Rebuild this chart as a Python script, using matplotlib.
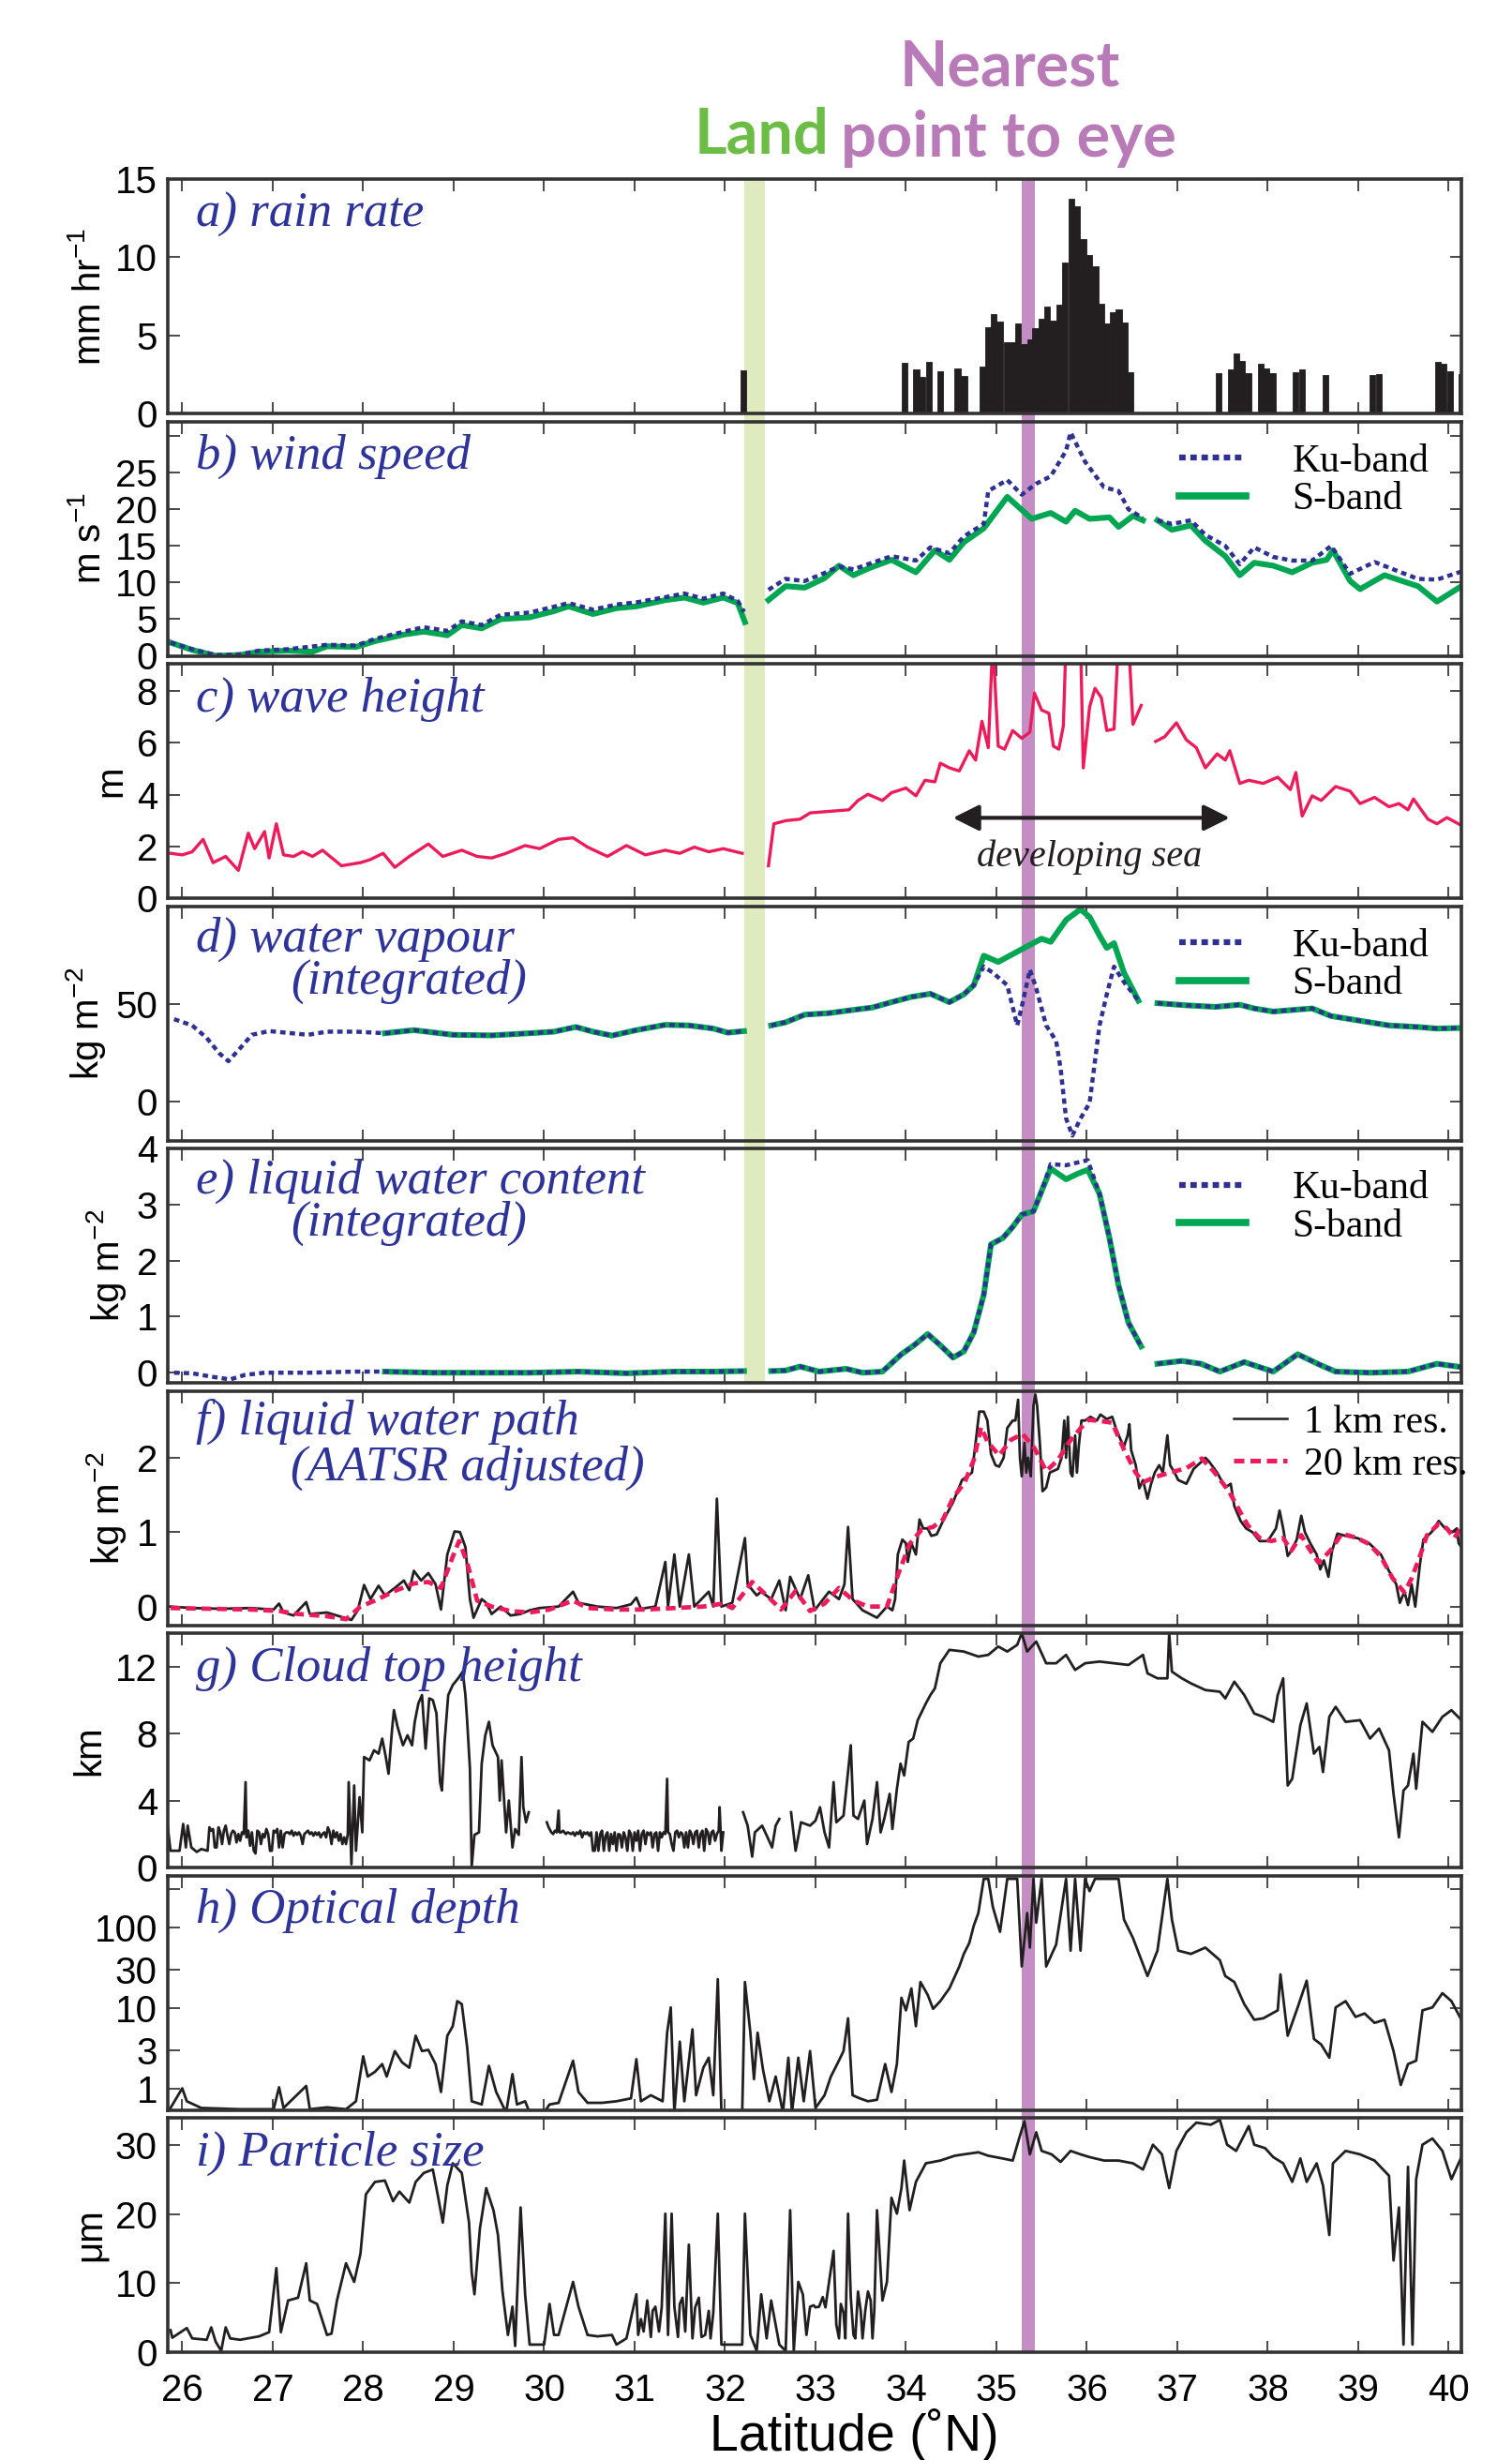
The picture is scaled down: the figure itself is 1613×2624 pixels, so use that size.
import numpy as np
import matplotlib.pyplot as plt
from matplotlib.lines import Line2D

plt.rcParams['font.family'] = ['Liberation Sans', 'DejaVu Sans']
plt.rcParams['mathtext.fontset'] = 'custom'
plt.rcParams['mathtext.rm'] = 'Liberation Sans'
plt.rcParams['mathtext.it'] = 'Liberation Sans:italic'

nan = np.nan

# ---------------- data ----------------
# a) rain rate bars: left edge latitude, mm/hr
rain_lat = [32.17, 33.954, 34.083, 34.148, 34.218, 34.343, 34.537, 34.611, 34.810, 34.875,
            34.935, 35.005, 35.079, 35.144, 35.208, 35.273, 35.338, 35.398, 35.463, 35.528,
            35.593, 35.662, 35.727, 35.796, 35.861, 35.926, 35.991, 36.060, 36.125, 36.190,
            36.255, 36.319, 36.380, 36.444, 37.421, 37.556, 37.620, 37.685, 37.750, 37.889,
            37.954, 38.019, 38.273, 38.343, 38.602, 39.120, 39.194, 39.847, 39.912, 39.981, 40.106]
rain_val = [2.75, 3.23, 2.8, 2.34, 3.33, 2.7, 2.87, 2.4, 3.0, 5.55,
            6.39, 5.87, 4.55, 4.55, 5.75, 4.43, 4.73, 5.45, 6.09, 6.83,
            5.97, 6.95, 9.64, 13.77, 13.29, 11.14, 10.12, 9.44, 7.0, 5.75,
            6.49, 6.65, 5.83, 2.63, 2.57, 2.8, 3.83, 3.39, 2.57, 3.17,
            2.87, 2.57, 2.63, 2.8, 2.46, 2.46, 2.5, 3.33, 3.17, 2.73, 2.55]

# b) wind speed
ws_s_lat = [25.87, 26.11, 26.37, 26.64, 26.85, 27.17, 27.44, 27.60, 27.92, 28.13,
            28.45, 28.67, 28.93, 29.09, 29.31, 29.52, 29.84, 30.11, 30.27, 30.54,
            30.80, 31.02, 31.34, 31.55, 31.76, 31.98, 32.14, 32.22, 32.35, 32.48,
            32.67, 32.88, 33.10, 33.26, 33.42, 33.58, 33.84, 34.11, 34.32, 34.48,
            34.64, 34.86, 35.12, 35.39, 35.60, 35.77, 35.87, 36.03, 36.25, 36.35,
            36.51, 36.62, 36.70, 36.78, 36.94, 37.15, 37.31, 37.53, 37.69, 37.85,
            38.06, 38.27, 38.49, 38.65, 38.72, 38.91, 39.02, 39.29, 39.66, 39.87, 40.14]
ws_s_val = [1.8, 0.8, 0.0, 0.1, 0.55, 0.7, 0.55, 1.3, 1.2, 2.0,
            2.9, 3.3, 2.8, 4.2, 3.75, 5.0, 5.25, 6.1, 6.75, 5.7,
            6.5, 6.75, 7.6, 7.95, 7.25, 7.95, 7.2, 4.6, nan, 7.6,
            9.5, 9.3, 10.6, 12.3, 11.0, 11.9, 13.1, 11.4, 14.4, 13.1,
            15.5, 17.4, 21.7, 18.7, 19.5, 18.3, 19.8, 18.7, 18.9, 17.6,
            19.1, 18.5, nan, 18.5, 17.2, 17.8, 15.7, 13.6, 11.0, 12.7,
            12.3, 11.4, 12.7, 13.1, 14.4, 10.2, 9.1, 11.0, 9.5, 7.4, 9.5]
ws_ku_lat = [25.87, 26.11, 26.37, 26.64, 26.85, 27.17, 27.60, 27.92, 28.13, 28.45,
             28.67, 28.93, 29.09, 29.31, 29.52, 29.84, 30.11, 30.27, 30.54, 30.80,
             31.02, 31.34, 31.55, 31.76, 31.98, 32.14, 32.21, 32.35, 32.48, 32.67,
             32.88, 33.10, 33.26, 33.42, 33.58, 33.84, 34.11, 34.27, 34.48, 34.64,
             34.86, 34.91, 35.12, 35.28, 35.44, 35.60, 35.77, 35.82, 35.98, 36.19,
             36.35, 36.46, 36.62, 36.70, 36.78, 36.94, 37.15, 37.31, 37.53, 37.69,
             37.85, 38.06, 38.27, 38.49, 38.70, 38.91, 39.18, 39.45, 39.66, 39.87, 40.14]
ws_ku_val = [1.8, 0.9, 0.1, 0.2, 0.7, 0.9, 1.5, 1.4, 2.3, 3.3,
             3.9, 3.4, 4.7, 4.2, 5.6, 5.9, 6.7, 7.2, 6.3, 7.0,
             7.3, 8.0, 8.5, 7.8, 8.5, 7.5, 6.0, nan, 9.0, 10.5,
             10.2, 11.3, 12.2, 11.8, 12.5, 13.6, 13.0, 14.8, 14.0, 16.3,
             18.0, 22.5, 24.0, 22.0, 23.5, 24.5, 28.0, 30.5, 26.5, 23.0,
             22.5, 20.0, 18.8, nan, 18.5, 18.0, 18.5, 16.5, 15.0, 12.5,
             14.8, 13.5, 13.0, 13.0, 15.0, 11.2, 12.8, 11.5, 10.5, 10.4, 11.5]

# c) wave height
wave_lat = [25.87, 26.00, 26.11, 26.23, 26.34, 26.48, 26.62, 26.73, 26.80, 26.91,
            26.96, 27.04, 27.12, 27.23, 27.33, 27.44, 27.55, 27.76, 27.97, 28.08,
            28.22, 28.35, 28.51, 28.72, 28.88, 29.09, 29.26, 29.42, 29.58, 29.79,
            29.95, 30.16, 30.32, 30.48, 30.70, 30.91, 31.12, 31.34, 31.50, 31.66,
            31.82, 31.98, 32.19, 32.33, 32.48, 32.54, 32.67, 32.83, 32.94, 33.15,
            33.37, 33.47, 33.58, 33.74, 33.84, 34.00, 34.11, 34.21, 34.32, 34.38,
            34.48, 34.59, 34.70, 34.77, 34.84, 34.91, 34.96, 35.02, 35.09, 35.18,
            35.28, 35.37, 35.42, 35.50, 35.58, 35.63, 35.69, 35.74, 35.77, 35.84,
            35.93, 35.96, 36.03, 36.09, 36.16, 36.22, 36.30, 36.35, 36.46, 36.51,
            36.60, 36.66, 36.76, 36.86, 36.99, 37.10, 37.21, 37.31, 37.44, 37.53,
            37.58, 37.69, 37.79, 37.95, 38.11, 38.25, 38.31, 38.38, 38.49, 38.59,
            38.75, 38.91, 39.02, 39.18, 39.34, 39.45, 39.55, 39.61, 39.77, 39.87,
            39.98, 40.14]
wave_val = [1.73, 1.67, 1.79, 2.27, 1.37, 1.61, 1.07, 2.51, 1.91, 2.57,
            1.55, 2.87, 1.67, 1.61, 1.79, 1.61, 1.85, 1.25, 1.37, 1.49,
            1.73, 1.19, 1.61, 2.09, 1.61, 1.85, 1.61, 1.55, 1.73, 2.03,
            1.91, 2.27, 2.33, 1.97, 1.61, 2.03, 1.67, 1.85, 1.73, 1.97,
            1.79, 1.91, 1.73, nan, 1.25, 2.87, 2.99, 3.05, 3.29, 3.35,
            3.41, 3.77, 4.01, 3.77, 4.07, 4.25, 3.95, 4.55, 4.49, 5.21,
            5.03, 4.91, 5.69, 5.33, 6.83, 5.81, 10.0, 5.87, 5.75, 6.47,
            6.17, 6.41, 7.92, 7.26, 7.14, 5.87, 5.75, 6.65, 10.0, 10.0,
            10.0, 5.03, 7.38, 8.1, 7.74, 6.47, 6.53, 10.0, 10.0, 6.71,
            7.44, nan, 6.05, 6.23, 6.77, 6.11, 5.81, 5.03, 5.57, 5.33,
            5.69, 4.43, 4.55, 4.43, 4.67, 4.19, 4.85, 3.17, 3.95, 3.77,
            4.31, 4.13, 3.65, 3.89, 3.53, 3.65, 3.41, 3.83, 3.05, 2.87,
            3.11, 2.81]

# d) water vapour (integrated)
wv_ku_lat = [25.91, 26.11, 26.27, 26.41, 26.51, 26.62, 26.77, 26.96, 27.39, 27.60,
             27.92, 28.24, 28.56, 28.99, 29.42, 29.84, 30.11, 30.35, 30.54, 30.75,
             31.02, 31.34, 31.60, 31.87, 32.03, 32.21, 32.35, 32.51, 32.67, 32.88,
             33.15, 33.36, 33.63, 33.84, 34.06, 34.27, 34.48, 34.64, 34.75, 34.86,
             34.96, 35.12, 35.23, 35.28, 35.37, 35.44, 35.55, 35.66, 35.71, 35.77,
             35.84, 35.93, 36.03, 36.14, 36.22, 36.30, 36.41, 36.57, 36.68, 36.78,
             37.10, 37.42, 37.69, 37.85, 38.06, 38.27, 38.49, 38.70, 39.02, 39.34,
             39.66, 39.87, 40.14]
wv_ku_val = [42.1, 38.9, 32.5, 24.6, 20.6, 26.2, 34.1, 36.0, 34.1, 35.7,
             35.7, 34.9, 36.5, 34.1, 33.8, 34.9, 35.7, 38.1, 35.7, 33.7,
             36.5, 39.2, 38.9, 37.3, 35.2, 36.0, nan, 38.9, 40.5, 44.4,
             45.2, 46.5, 48.1, 50.8, 53.5, 55.1, 50.8, 54.8, 59.5, 69.0,
             65.9, 59.5, 38.9, 48.4, 67.5, 57.9, 38.9, 31.0, 16.7, -8.7,
             -17.5, -8.7, -0.8, 38.9, 54.8, 69.0, 61.1, 51.6, nan, 50.3,
             49.2, 48.4, 49.5, 47.6, 46.0, 46.8, 47.6, 43.7, 41.3, 38.9,
             38.1, 37.3, 37.6]
wv_s_lat = [28.24, 28.56, 28.99, 29.42, 29.84, 30.11, 30.35, 30.54, 30.75, 31.02,
            31.34, 31.60, 31.87, 32.03, 32.21, 32.35, 32.51, 32.67, 32.88, 33.15,
            33.36, 33.63, 33.84, 34.06, 34.27, 34.48, 34.64, 34.75, 34.86, 35.02,
            35.18, 35.34, 35.50, 35.60, 35.77, 35.93, 36.03, 36.14, 36.22, 36.30,
            36.41, 36.57, 36.68, 36.78, 37.10, 37.42, 37.69, 37.85, 38.06, 38.27,
            38.49, 38.70, 39.02, 39.34, 39.66, 39.87, 40.14]
wv_s_val = [34.9, 36.5, 34.1, 33.8, 34.9, 35.7, 38.1, 35.7, 33.7, 36.5,
            39.2, 38.9, 37.3, 35.2, 36.0, nan, 38.9, 40.5, 44.4, 45.2,
            46.5, 48.1, 50.8, 53.5, 55.1, 50.8, 54.8, 59.5, 74.6, 71.4,
            75.4, 79.4, 83.3, 81.7, 92.9, 98.4, 94.4, 84.9, 78.6, 81.0,
            65.9, 51.6, nan, 50.3, 49.2, 48.4, 49.5, 47.6, 46.0, 46.8,
            47.6, 43.7, 41.3, 38.9, 38.1, 37.3, 37.6]

# e) liquid water content (integrated)
lwc_ku_lat = [25.91, 26.11, 26.32, 26.53, 26.69, 26.91, 27.39, 27.92, 28.24, 28.77,
              29.31, 29.84, 30.38, 30.91, 31.44, 31.87, 32.21, 32.35, 32.51, 32.67,
              32.83, 33.04, 33.34, 33.52, 33.74, 33.95, 34.09, 34.24, 34.38, 34.52,
              34.64, 34.75, 34.86, 34.94, 35.07, 35.18, 35.28, 35.41, 35.50, 35.60,
              35.77, 35.90, 36.01, 36.14, 36.25, 36.35, 36.46, 36.60, 36.68, 36.78,
              37.05, 37.26, 37.47, 37.74, 38.06, 38.33, 38.59, 38.75, 39.13, 39.55,
              39.87, 40.14]
lwc_ku_val = [0.0, -0.01, -0.07, -0.12, -0.04, 0.0, 0.0, 0.02, 0.02, 0.0,
              0.0, 0.0, 0.02, -0.01, 0.02, 0.02, 0.03, nan, 0.03, 0.04,
              0.11, 0.02, 0.07, 0.0, 0.02, 0.33, 0.49, 0.69, 0.49, 0.27,
              0.38, 0.72, 1.39, 2.29, 2.40, 2.60, 2.82, 2.88, 3.24, 3.72,
              3.70, 3.75, 3.79, 3.19, 2.40, 1.56, 0.89, 0.47, nan, 0.16,
              0.21, 0.16, 0.02, 0.19, 0.02, 0.33, 0.13, 0.02, 0.0, 0.02,
              0.16, 0.10]
lwc_s_lat = [28.24, 28.77, 29.31, 29.84, 30.38, 30.91, 31.44, 31.87, 32.21, 32.35,
             32.51, 32.67, 32.83, 33.04, 33.34, 33.52, 33.74, 33.95, 34.09, 34.24,
             34.38, 34.52, 34.64, 34.75, 34.86, 34.94, 35.07, 35.18, 35.28, 35.41,
             35.50, 35.60, 35.77, 35.90, 36.01, 36.14, 36.25, 36.35, 36.46, 36.60,
             36.68, 36.78, 37.05, 37.26, 37.47, 37.74, 38.06, 38.33, 38.59, 38.75,
             39.13, 39.55, 39.87, 40.14]
lwc_s_val = [0.02, 0.0, 0.0, 0.0, 0.02, -0.01, 0.02, 0.02, 0.03, nan,
             0.03, 0.04, 0.11, 0.02, 0.07, 0.0, 0.02, 0.33, 0.49, 0.69,
             0.49, 0.27, 0.38, 0.72, 1.39, 2.29, 2.40, 2.60, 2.82, 2.88,
             3.24, 3.64, 3.45, 3.55, 3.62, 3.19, 2.40, 1.56, 0.89, 0.47,
             nan, 0.16, 0.21, 0.16, 0.02, 0.19, 0.02, 0.33, 0.13, 0.02,
             0.0, 0.02, 0.16, 0.10]

# f) liquid water path, 20 km resolution
lwp20_lat = [25.87, 26.32, 26.75, 27.07, 27.28, 27.60, 27.81, 27.97, 28.13, 28.35,
             28.56, 28.72, 28.86, 28.99, 29.06, 29.15, 29.26, 29.42, 29.63, 29.84,
             30.06, 30.32, 30.48, 30.80, 31.12, 31.44, 31.76, 31.98, 32.08, 32.30,
             32.46, 32.62, 32.78, 32.94, 33.10, 33.26, 33.42, 33.58, 33.79, 33.91,
             34.04, 34.17, 34.30, 34.41, 34.52, 34.65, 34.75, 34.83, 34.90, 35.03,
             35.16, 35.29, 35.42, 35.55, 35.68, 35.81, 35.94, 36.02, 36.17, 36.28,
             36.41, 36.54, 36.62, 36.75, 36.92, 37.10, 37.27, 37.40, 37.57, 37.70,
             37.78, 37.91, 38.04, 38.17, 38.26, 38.37, 38.45, 38.56, 38.69, 38.82,
             38.99, 39.12, 39.25, 39.38, 39.51, 39.59, 39.68, 39.76, 39.89, 39.98,
             40.06, 40.13]
lwp20_val = [-0.02, -0.03, -0.04, -0.06, -0.10, -0.13, -0.17, 0.0, 0.08, 0.21,
             0.31, 0.33, 0.25, 0.67, 0.88, 0.59, 0.08, 0.0, -0.06, -0.08,
             -0.04, 0.08, -0.02, -0.04, -0.04, -0.02, 0.0, 0.04, -0.02, 0.33,
             0.15, -0.04, 0.21, -0.06, 0.04, 0.25, 0.08, 0.0, 0.0, 0.42,
             0.84, 1.03, 1.07, 1.17, 1.46, 1.67, 1.97, 2.41, 2.22, 2.03,
             2.24, 2.32, 2.13, 1.82, 1.97, 2.22, 2.41, 2.51, 2.49, 2.47,
             2.11, 1.80, 1.67, 1.74, 1.80, 1.86, 1.99, 1.82, 1.55, 1.26,
             1.09, 0.92, 0.88, 0.92, 0.75, 0.96, 0.79, 0.59, 0.75, 0.98,
             0.92, 0.84, 0.67, 0.38, 0.19, 0.38, 0.67, 0.96, 1.11, 1.05,
             0.92, 1.05]

# f) liquid water path, 1 km resolution
lwp1_lat = [25.87, 26.11, 26.43, 26.75, 27.01, 27.07, 27.12, 27.23, 27.37, 27.41,
            27.60, 27.76, 27.87, 27.94, 28.01, 28.08, 28.17, 28.24, 28.35, 28.45,
            28.51, 28.56, 28.64, 28.72, 28.80, 28.86, 28.93, 29.01, 29.07, 29.13,
            29.18, 29.22, 29.31, 29.36, 29.42, 29.52, 29.63, 29.74, 29.84, 29.95,
            30.16, 30.32, 30.38, 30.59, 30.80, 30.96, 31.02, 31.07, 31.23, 31.34,
            31.37, 31.44, 31.50, 31.60, 31.66, 31.82, 31.87, 31.91, 31.96, 32.08,
            32.22, 32.25, 32.35, 32.40, 32.51, 32.60, 32.67, 32.72, 32.83, 32.92,
            32.99, 33.15, 33.26, 33.32, 33.36, 33.41, 33.52, 33.68, 33.79, 33.85,
            33.88, 33.91, 33.96, 34.00, 34.02, 34.06, 34.11, 34.15, 34.19, 34.24,
            34.28, 34.34, 34.41, 34.52, 34.62, 34.73, 34.77, 34.81, 34.86, 34.90,
            34.94, 34.99, 35.03, 35.08, 35.12, 35.18, 35.21, 35.24, 35.26, 35.28,
            35.31, 35.33, 35.35, 35.38, 35.41, 35.43, 35.45, 35.48, 35.51, 35.55,
            35.59, 35.68, 35.72, 35.75, 35.77, 35.79, 35.82, 35.84, 35.87, 35.89,
            35.91, 35.94, 35.98, 36.04, 36.11, 36.15, 36.22, 36.28, 36.32, 36.37,
            36.41, 36.45, 36.47, 36.49, 36.54, 36.58, 36.62, 36.67, 36.71, 36.75,
            36.80, 36.84, 36.89, 36.92, 36.97, 37.01, 37.10, 37.18, 37.27, 37.31,
            37.35, 37.44, 37.53, 37.59, 37.63, 37.70, 37.76, 37.83, 37.91, 38.00,
            38.09, 38.13, 38.17, 38.22, 38.26, 38.32, 38.37, 38.41, 38.47, 38.54,
            38.58, 38.62, 38.67, 38.71, 38.77, 38.86, 38.99, 39.12, 39.25, 39.33,
            39.42, 39.46, 39.51, 39.55, 39.59, 39.63, 39.68, 39.72, 39.81, 39.89,
            39.96, 40.04, 40.09, 40.11, 40.14]
lwp1_val = [0.0, -0.02, -0.03, -0.02, -0.04, 0.04, -0.08, -0.12, 0.06, -0.1,
            -0.08, -0.14, -0.18, -0.05, 0.29, 0.1, 0.28, 0.15, 0.25, 0.35,
            0.22, 0.48, 0.35, 0.45, 0.3, -0.04, 0.7, 1.01, 1.0, 0.8,
            0.1, -0.15, 0.1, 0.05, -0.1, 0.0, -0.12, -0.1, -0.05, -0.02,
            0.0, 0.2, 0.05, 0.0, -0.02, 0.03, 0.12, -0.03, 0.0, 0.6,
            0.0, 0.7, 0.0, 0.7, 0.0, 0.2, 0.0, 1.45, 0.0, 0.05,
            0.92, 0.3, 0.15, 0.2, 0.1, 0.35, -0.05, 0.4, 0.1, 0.42,
            -0.05, 0.2, 0.1, 0.3, 1.07, 0.1, -0.05, -0.15, 0.0, -0.05,
            0.1, 0.7, 0.9, 0.85, 0.6, 0.85, 0.7, 1.17, 1.05, 1.05,
            0.95, 0.97, 1.15, 1.4, 1.7, 1.8, 2.2, 2.62, 2.62, 2.5,
            2.05, 1.9, 1.88, 2.0, 2.4, 2.5, 2.5, 2.78, 2.0, 1.75,
            2.2, 1.8, 2.0, 1.75, 2.7, 2.85, 2.7, 2.2, 1.55, 1.6,
            1.8, 1.85, 2.0, 2.5, 2.0, 2.55, 1.8, 1.75, 2.3, 1.8,
            2.15, 2.5, 2.5, 2.55, 2.5, 2.58, 2.52, 2.55, 2.4, 2.25,
            2.15, 2.3, 2.45, 2.1, 1.9, 1.59, 1.7, 1.45, 1.65, 1.8,
            1.9, 1.8, 2.3, 1.9, 1.8, 1.7, 1.65, 1.85, 1.95, 2.0,
            1.95, 1.8, 1.6, 1.65, 1.35, 1.15, 1.05, 1.0, 0.88, 0.88,
            1.05, 1.29, 1.05, 0.68, 0.75, 0.9, 1.22, 1.0, 0.85, 0.7,
            0.5, 0.62, 0.4, 0.75, 0.98, 0.95, 0.92, 0.85, 0.7, 0.5,
            0.3, 0.05, 0.2, 0.02, 0.3, 0.0, 0.55, 0.9, 1.0, 1.15,
            1.05, 1.0, 1.05, 0.85, 0.8]

# g) cloud top height (km)
cth_lat = [25.84, 25.87, 25.97, 26.01, 26.04, 26.06, 26.10, 26.16, 26.21, 26.28,
           26.30, 26.32, 26.34, 26.36, 26.38, 26.40, 26.42, 26.44, 26.46, 26.48,
           26.50, 26.52, 26.54, 26.56, 26.58, 26.60, 26.62, 26.64, 26.66, 26.68,
           26.70, 26.71, 26.73, 26.75, 26.77, 26.79, 26.81, 26.83, 26.85, 26.87,
           26.89, 26.91, 26.93, 26.95, 26.97, 26.99, 27.01, 27.03, 27.05, 27.07,
           27.09, 27.11, 27.13, 27.15, 27.17, 27.19, 27.21, 27.23, 27.25, 27.27,
           27.29, 27.31, 27.33, 27.35, 27.37, 27.39, 27.41, 27.43, 27.45, 27.47,
           27.49, 27.51, 27.53, 27.55, 27.57, 27.59, 27.61, 27.63, 27.65, 27.67,
           27.69, 27.71, 27.73, 27.75, 27.77, 27.79, 27.81, 27.83,
           27.84, 27.87, 27.90, 27.92, 27.96, 27.99, 28.01, 28.07,
           28.12, 28.17, 28.21, 28.25, 28.28, 28.32, 28.34, 28.38, 28.44, 28.49,
           28.54, 28.57, 28.61, 28.65, 28.69, 28.73, 28.77, 28.81, 28.85, 28.87,
           28.90, 28.94, 28.99, 29.05, 29.10, 29.13, 29.15, 29.18, 29.20, 29.23,
           29.28, 29.31, 29.35, 29.39, 29.43, 29.49, 29.51, 29.53, 29.58, 29.61,
           29.65, 29.68, 29.72, 29.75, 29.77, 29.80, 29.83, 29.90,
           30.03, 30.05, 30.08, 30.10, 30.12, 30.14, 30.16, 30.17, 30.19, 30.21,
           30.24, 30.26, 30.28, 30.30, 30.32, 30.34, 30.36, 30.38, 30.40, 30.42,
           30.44, 30.46, 30.48, 30.50, 30.52, 30.54, 30.56, 30.58, 30.60, 30.62,
           30.64, 30.66, 30.68, 30.70, 30.72, 30.74, 30.76, 30.78, 30.80, 30.82,
           30.84, 30.86, 30.88, 30.90, 30.92, 30.94, 30.96, 30.98, 31.00, 31.02,
           31.04, 31.06, 31.08, 31.10, 31.12, 31.14, 31.16, 31.18, 31.20, 31.22,
           31.24, 31.26, 31.28, 31.30, 31.32, 31.34, 31.36, 31.37, 31.39, 31.41,
           31.43, 31.45, 31.47, 31.49, 31.51, 31.53, 31.55, 31.57, 31.59, 31.61,
           31.63, 31.65, 31.67, 31.69, 31.71, 31.73, 31.75, 31.77, 31.79, 31.81,
           31.83, 31.85, 31.87, 31.89, 31.91, 31.93, 31.94, 31.96, 31.98,
           32.10, 32.20, 32.25, 32.30, 32.33, 32.41, 32.47, 32.52, 32.56,
           32.60, 32.70, 32.73, 32.78, 32.84, 32.94, 33.00, 33.05, 33.10, 33.15,
           33.20, 33.23, 33.31, 33.39, 33.42, 33.47, 33.54, 33.57, 33.63, 33.68,
           33.72, 33.76, 33.82, 33.85, 33.90, 33.94, 33.98, 34.03, 34.08, 34.13,
           34.22, 34.27, 34.32, 34.38, 34.48, 34.64, 34.80, 34.91, 35.02, 35.12,
           35.23, 35.28, 35.34, 35.44, 35.55, 35.66, 35.77, 35.87, 35.98, 36.14,
           36.30, 36.46, 36.62, 36.67, 36.78, 36.89, 36.91, 36.94, 37.05, 37.15,
           37.31, 37.47, 37.53, 37.63, 37.74, 37.85, 37.95, 38.06, 38.11, 38.17,
           38.22, 38.27, 38.36, 38.43, 38.51, 38.57, 38.61, 38.68, 38.75, 38.86,
           39.02, 39.13, 39.23, 39.34, 39.39, 39.45, 39.50, 39.55, 39.61, 39.64,
           39.71, 39.82, 39.93, 40.03, 40.14]
cth_val = [2.4, 1.0, 1.0, 2.6, 1.2, 2.5, 1.2, 0.93, 1.1, 1.0,
           2.4, 2.2, 2.3, 1.2, 1.2, 2.4, 2.1, 1.4, 2.2, 2.5,
           1.9, 1.4, 2.0, 2.2, 2.1, 1.5, 2.0, 1.6, 2.1, 2.0,
           5.1, 1.8, 2.2, 1.3, 2.1, 1.0, 0.84, 2.2, 2.1, 1.4,
           2.0, 1.8, 2.3, 2.0, 1.0, 1.0, 2.2, 2.1, 2.3, 1.2,
           2.2, 1.2, 2.0, 2.1, 2.1, 2.0, 2.2, 1.9, 2.1, 1.95,
           2.1, 1.9, 1.4, 2.0, 2.1, 2.2, 2.0, 2.1, 1.9, 2.1,
           1.95, 2.1, 1.8, 2.0, 2.1, 1.8, 2.4, 2.1, 1.4, 2.2,
           1.8, 2.1, 1.6, 2.0, 1.4, 1.8, 1.4, 2.0,
           5.1, 0.19, 4.9, 1.0, 4.2, 2.1, 6.6, 6.4,
           7.0, 6.8, 7.7, 6.6, 5.6, 8.3, 9.4, 8.4, 7.3, 7.9,
           7.3, 8.7, 9.8, 10.3, 7.1, 10.1, 10.0, 9.2, 5.1, 4.6,
           7.5, 10.3, 10.9, 11.3, 11.7, 10.3, 8.7, 5.9, 0.09, 1.95,
           2.1, 6.2, 7.9, 8.7, 7.3, 6.6, 4.0, 6.4, 2.1, 4.0,
           1.2, 2.3, 1.95, 6.6, 3.6, 2.7, 3.3, nan,
           2.7, 2.4, 2.1, 2.0, 2.2, 2.1, 3.4, 2.1, 2.1, 2.2,
           2.0, 2.1, 2.05, 2.0, 2.1, 1.9, 2.1, 2.0, 2.2, 1.8,
           2.1, 2.0, 2.1, 1.9, 2.1, 1.0, 1.0, 2.1, 1.0, 2.0,
           2.2, 1.0, 1.9, 2.1, 1.0, 2.0, 1.4, 2.1, 1.0, 2.0,
           1.95, 1.2, 2.1, 1.8, 1.0, 2.2, 2.0, 1.0, 2.1, 1.6,
           2.2, 1.0, 2.0, 2.2, 1.4, 2.1, 1.95, 2.1, 1.2, 2.0,
           2.1, 1.0, 2.1, 1.8, 2.1, 2.0, 5.3, 2.1, 2.0, 1.4,
           1.0, 2.1, 2.2, 1.8, 2.1, 2.0, 1.2, 2.1, 1.2, 2.2,
           2.0, 1.4, 2.1, 2.2, 1.2, 2.0, 2.2, 1.0, 2.3, 2.1,
           1.4, 2.1, 2.2, 1.6, 2.0, 2.2, 3.6, 1.0, 2.1,
           nan, 3.3, 2.5, 0.65, 2.1, 2.5, 1.8, 1.2, 2.5,
           2.9, nan, 3.3, 1.0, 2.7, 2.5, 2.8, 3.6, 2.1, 1.2,
           5.1, 2.7, 3.1, 7.3, 3.1, 2.9, 4.0, 1.4, 2.9, 5.1,
           2.1, 2.9, 4.4, 2.3, 4.7, 6.2, 5.5, 7.5, 7.7, 8.8,
           9.8, 10.3, 10.7, 12.2, 13.0, 12.9, 12.6, 12.7, 13.2, 12.9,
           13.3, 14.0, 12.9, 13.5, 12.2, 12.2, 12.7, 11.8, 12.2, 12.3,
           12.2, 12.1, 12.7, 11.6, 11.3, 11.3, 14.0, 11.7, 11.3, 11.0,
           10.6, 10.5, 10.1, 11.1, 10.3, 9.2, 9.0, 8.7, 10.3, 11.3,
           4.9, 5.3, 8.5, 9.8, 6.8, 7.2, 5.7, 9.0, 9.6, 8.7,
           8.8, 7.7, 8.3, 7.0, 4.4, 1.8, 4.6, 4.9, 6.8, 4.7,
           8.7, 8.1, 9.0, 9.4, 8.8]

# h) optical depth
tau_lat = [25.87, 26.00, 26.05, 26.21, 26.64, 27.01, 27.07, 27.12, 27.37, 27.41,
           27.60, 27.81, 27.92, 28.00, 28.05, 28.13, 28.21, 28.26, 28.35, 28.43,
           28.51, 28.58, 28.65, 28.72, 28.80, 28.86, 28.93, 28.99, 29.04, 29.09,
           29.15, 29.20, 29.31, 29.39, 29.47, 29.58, 29.65, 29.70, 29.79, 29.84,
           30.00, 30.06, 30.16, 30.32, 30.38, 30.48, 30.64, 30.80, 30.96, 31.02,
           31.07, 31.18, 31.31, 31.36, 31.40, 31.44, 31.50, 31.55, 31.64, 31.68,
           31.76, 31.82, 31.87, 31.92, 31.96, 32.08, 32.19, 32.22, 32.28, 32.32,
           32.36, 32.42, 32.49, 32.56, 32.64, 32.70, 32.74, 32.81, 32.87, 32.94,
           33.00, 33.10, 33.17, 33.24, 33.31, 33.36, 33.41, 33.49, 33.58, 33.68,
           33.77, 33.84, 33.90, 33.95, 34.00, 34.06, 34.11, 34.16, 34.24, 34.30,
           34.38, 34.48, 34.59, 34.64, 34.70, 34.75, 34.80, 34.86, 34.91, 34.96,
           35.04, 35.12, 35.23, 35.28, 35.34, 35.37, 35.41, 35.44, 35.50, 35.55,
           35.66, 35.77, 35.82, 35.87, 35.93, 35.98, 36.03, 36.09, 36.35, 36.41,
           36.51, 36.59, 36.67, 36.78, 36.89, 36.94, 37.01, 37.15, 37.31, 37.47,
           37.53, 37.63, 37.74, 37.85, 37.95, 38.11, 38.14, 38.22, 38.33, 38.43,
           38.51, 38.59, 38.68, 38.75, 38.86, 38.97, 39.07, 39.18, 39.29, 39.39,
           39.47, 39.55, 39.64, 39.71, 39.82, 39.93, 40.03, 40.14]
tau_val = [0.57, 1.0, 0.69, 0.57, 0.55, 0.55, 1.03, 0.57, 1.07, 0.55,
           0.58, 0.55, 0.69, 2.5, 1.4, 1.6, 2.0, 1.4, 2.9, 2.1,
           1.8, 4.5, 2.9, 3.0, 2.0, 0.9, 4.5, 5.9, 12.1, 11.1,
           3.2, 0.69, 0.63, 1.9, 0.9, 0.5, 1.5, 0.63, 0.69, 0.5,
           0.5, 0.63, 0.66, 2.2, 0.9, 0.66, 0.66, 0.69, 0.75, 2.3,
           0.69, 0.82, 0.69, 4.9, 10.1, 0.5, 3.8, 0.69, 5.4, 0.82,
           1.8, 2.4, 0.82, 22.7, 0.5, 0.5, 0.5, 20.9, 4.9, 1.3,
           4.9, 1.7, 0.69, 1.4, 0.5, 2.4, 0.5, 2.4, 0.69, 2.9,
           0.57, 0.82, 1.4, 2.0, 2.9, 7.4, 0.82, 0.75, 0.69, 0.72,
           2.0, 0.9, 2.0, 13.3, 9.3, 17.4, 5.9, 20.9, 14.5, 9.7,
           12.1, 17.4, 32.6, 46.7, 63.7, 105, 150, 400, 400, 180,
           87.8, 400, 400, 32.6, 150, 55.9, 400, 114, 400, 32.6,
           60.9, 400, 51.3, 400, 51.3, 400, 281, 400, 400, 125,
           73.3, 42.5, 24.8, 51.3, 400, 125, 51.3, 46.7, 55.9, 39.0,
           24.8, 20.9, 11.1, 7.1, 7.4, 9.3, 26.0, 4.5, 10.1, 21.7,
           4.1, 3.5, 2.4, 10.1, 12.1, 7.7, 8.5, 6.5, 7.1, 2.9,
           1.1, 2.0, 2.2, 9.3, 10.1, 15.2, 12.1, 7.1]

# i) particle size (um)
re_lat = [25.87, 25.89, 26.05, 26.11, 26.27, 26.32, 26.37, 26.43, 26.48, 26.53,
          26.64, 26.85, 26.96, 27.04, 27.09, 27.17, 27.28, 27.37, 27.41, 27.49,
          27.60, 27.65, 27.71, 27.81, 27.90, 27.97, 28.03, 28.13, 28.24, 28.33,
          28.40, 28.51, 28.58, 28.67, 28.77, 28.83, 28.88, 28.93, 28.99, 29.09,
          29.17, 29.20, 29.23, 29.29, 29.36, 29.44, 29.49, 29.54, 29.60, 29.65,
          29.68, 29.74, 29.79, 29.84, 30.00, 30.06, 30.11, 30.16, 30.32, 30.38,
          30.48, 30.59, 30.75, 30.80, 30.91, 31.02, 31.04, 31.07, 31.10, 31.14,
          31.18, 31.20, 31.23, 31.27, 31.30, 31.34, 31.37, 31.41, 31.44, 31.48,
          31.50, 31.53, 31.56, 31.60, 31.64, 31.67, 31.71, 31.74, 31.78, 31.82,
          31.84, 31.87, 31.92, 31.96, 32.08, 32.19, 32.22, 32.28, 32.35, 32.40,
          32.46, 32.51, 32.60, 32.67, 32.72, 32.76, 32.81, 32.86, 32.90, 32.94,
          32.98, 33.00, 33.04, 33.08, 33.11, 33.15, 33.20, 33.23, 33.26, 33.28,
          33.31, 33.33, 33.36, 33.39, 33.42, 33.44, 33.47, 33.50, 33.52, 33.55,
          33.58, 33.61, 33.63, 33.65, 33.68, 33.74, 33.79, 33.84, 33.90, 33.95,
          33.98, 34.04, 34.11, 34.22, 34.38, 34.54, 34.64, 34.80, 34.91, 35.07,
          35.18, 35.26, 35.31, 35.37, 35.44, 35.50, 35.61, 35.71, 35.82, 35.93,
          36.03, 36.19, 36.35, 36.51, 36.62, 36.73, 36.83, 36.91, 36.99, 37.10,
          37.21, 37.37, 37.47, 37.55, 37.65, 37.79, 37.85, 37.97, 38.06, 38.17,
          38.27, 38.36, 38.43, 38.54, 38.61, 38.68, 38.72, 38.86, 39.02, 39.18,
          39.34, 39.39, 39.45, 39.50, 39.55, 39.60, 39.64, 39.71, 39.82, 39.93,
          40.03, 40.14]
re_val = [3.2, 2.1, 3.5, 2.0, 1.8, 3.6, 1.5, 0.2, 3.6, 2.0,
          1.8, 2.3, 2.9, 12.2, 2.9, 7.5, 7.9, 12.9, 7.5, 7.0,
          2.5, 2.7, 7.5, 12.9, 10.2, 14.3, 22.9, 24.7, 24.9, 21.9,
          23.3, 21.7, 24.7, 26.0, 26.5, 22.4, 18.8, 24.2, 27.4, 26.0,
          18.8, 11.5, 8.4, 17.9, 23.8, 20.6, 17.0, 8.8, 2.5, 6.6,
          0.9, 21.0, 8.4, 1.1, 1.1, 7.0, 2.5, 2.5, 10.2, 6.6,
          2.5, 2.3, 2.5, 1.1, 2.0, 8.4, 2.5, 4.8, 3.0, 7.5,
          2.2, 6.0, 6.6, 3.0, 6.5, 20.1, 2.5, 20.1, 6.6, 2.2,
          7.0, 7.9, 3.0, 15.6, 2.0, 6.5, 7.9, 2.2, 2.5, 6.0,
          2.0, 5.7, 20.1, 1.1, 1.1, 1.1, 20.1, 2.5, 0.2, 8.4,
          2.0, 7.5, 1.1, 0.2, 20.6, 0.2, 10.2, 8.4, 2.5, 6.6,
          6.8, 6.5, 6.6, 8.0, 6.5, 10.2, 14.7, 4.0, 2.0, 7.0,
          5.7, 2.0, 20.1, 8.0, 2.5, 2.0, 8.8, 6.0, 2.0, 6.0,
          8.8, 7.5, 2.0, 6.0, 20.6, 7.5, 10.2, 22.4, 20.1, 23.8,
          27.8, 20.6, 24.7, 27.4, 27.8, 28.5, 28.7, 29.0, 28.5, 28.1,
          27.8, 31.4, 33.5, 28.7, 31.9, 29.2, 28.7, 27.6, 29.2, 28.7,
          28.3, 27.8, 27.8, 27.4, 26.5, 30.1, 28.7, 23.8, 29.2, 31.9,
          33.3, 33.0, 33.7, 30.1, 29.2, 32.8, 30.1, 29.6, 28.3, 27.4,
          24.7, 28.1, 24.7, 27.4, 24.2, 17.0, 27.4, 29.2, 28.7, 27.8,
          25.6, 13.3, 21.0, 1.1, 26.9, 1.1, 25.1, 30.1, 31.0, 29.2,
          25.1, 28.3]

land_band = (32.21, 32.44)
eye_band = (35.28, 35.43)

# ---------------- style ----------------
BLUE = '#2e3192'
GREEN = '#00a651'
RED = '#ec1c5b'
INK = '#231f20'
LABEL_BLUE = '#2e3399'
PURPLE_BAND = '#c48ec4'
GREEN_BAND = '#e0eabf'
SERIF = 'Liberation Serif'
KU_LS = (0, (1.3, 1.0))
DASH20 = (0, (2.2, 1.3))

W, Hpx = 1613, 2624
tops = [191, 449.5, 708, 966.5, 1225, 1483.5, 1742, 2000.5, 2259]
PH = 250

fig = plt.figure(figsize=(W / 100, Hpx / 100), dpi=100)
axes = []
for t in tops:
    ax = fig.add_axes([179 / W, 1 - (t + PH) / Hpx, 1380 / W, PH / Hpx])
    ax.set_xlim(25.84, 40.14)
    ax.set_xticks(range(26, 41))
    ax.tick_params(direction='in', length=9, width=1.3, top=True, right=True,
                   labelsize=29, pad=8, color='#3a3a3a')
    ax.tick_params(axis='x', labelbottom=False, pad=16)
    for sp in ax.spines.values():
        sp.set_linewidth(2.6)
        sp.set_color('#333333')
    axes.append(ax)

gap = (tops[1] - tops[0] - PH) / PH
for i, ax in enumerate(axes):
    lo = -gap if i < len(axes) - 1 else 0
    ax.axvspan(*eye_band, ymin=lo, ymax=1, color=PURPLE_BAND, lw=0, zorder=0.5, clip_on=False)
    if i < 5:
        lo = -gap if i < 4 else 0
        ax.axvspan(*land_band, ymin=lo, ymax=1, color=GREEN_BAND, lw=0, zorder=0.4, clip_on=False)


def panel_label(ax, line1, line2=None, y1=0.85, y2=0.675):
    ax.text(0.022, y1, line1, transform=ax.transAxes, family=SERIF, style='italic',
            fontsize=38, color=LABEL_BLUE, va='center', ha='left')
    if line2:
        ax.text(0.095, y2, line2, transform=ax.transAxes, family=SERIF, style='italic',
                fontsize=38, color=LABEL_BLUE, va='center', ha='left')


def band_legend(ax, h1, h2, l1, l2):
    ax.legend([h1, h2], [l1, l2], loc='upper right', bbox_to_anchor=(0.975, 0.905),
              frameon=False, prop={'family': SERIF, 'size': 30}, handlelength=1.7,
              handletextpad=1.2, labelspacing=0.05, borderaxespad=0, borderpad=0)


def ylab(ax, s):
    ax.set_ylabel(s, fontsize=29, labelpad=6)


ku_h = Line2D([], [], color=BLUE, lw=4.5, ls=(0, (1.1, 0.8)))
s_h = Line2D([], [], color=GREEN, lw=5.5)

# a) rain rate
ax = axes[0]
ax.bar(rain_lat, rain_val, width=0.066, align='edge', color=INK, edgecolor=INK, lw=0.6, zorder=2)
ax.set_ylim(0, 15)
ax.set_yticks([0, 5, 10, 15])
ylab(ax, 'mm hr$^{-1}$')
panel_label(ax, 'a) rain rate')

# b) wind speed
ax = axes[1]
ax.plot(ws_s_lat, ws_s_val, color=GREEN, lw=4.4)
ax.plot(ws_ku_lat, ws_ku_val, color=BLUE, lw=3.2, ls=KU_LS)
ax.set_ylim(0, 32)
ax.set_yticks([0, 5, 10, 15, 20, 25, 30])
ax.set_yticklabels(['0', '5', '10', '15', '20', '25', ''])
ylab(ax, 'm s$^{-1}$')
panel_label(ax, 'b) wind speed')
band_legend(ax, ku_h, s_h, 'Ku-band', 'S-band')

# c) wave height
ax = axes[2]
ax.plot(wave_lat, wave_val, color=RED, lw=2.4)
ax.set_ylim(0, 9.05)
ax.set_yticks([0, 2, 4, 6, 8])
ylab(ax, 'm')
panel_label(ax, 'c) wave height')
ax.annotate('', xy=(34.52, 3.1), xytext=(37.58, 3.1),
            arrowprops=dict(arrowstyle='<|-|>', color=INK, lw=3, mutation_scale=42,
                            shrinkA=0, shrinkB=0))
ax.text(36.03, 1.6, 'developing sea', family=SERIF, style='italic', fontsize=29,
        ha='center', va='center', color=INK)

# d) water vapour
ax = axes[3]
ax.plot(wv_s_lat, wv_s_val, color=GREEN, lw=4.4)
ax.plot(wv_ku_lat, wv_ku_val, color=BLUE, lw=3.2, ls=KU_LS)
ax.set_ylim(-20, 100)
ax.set_yticks([0, 50])
ylab(ax, 'kg m$^{-2}$')
panel_label(ax, 'd) water vapour', '(integrated)', y1=0.86, y2=0.68)
band_legend(ax, ku_h, s_h, 'Ku-band', 'S-band')

# e) liquid water content
ax = axes[4]
ax.plot(lwc_s_lat, lwc_s_val, color=GREEN, lw=4.4)
ax.plot(lwc_ku_lat, lwc_ku_val, color=BLUE, lw=3.2, ls=KU_LS)
ax.set_ylim(-0.18, 4)
ax.set_yticks([0, 1, 2, 3, 4])
ylab(ax, 'kg m$^{-2}$')
panel_label(ax, 'e) liquid water content', '(integrated)', y1=0.86, y2=0.68)
band_legend(ax, ku_h, s_h, 'Ku-band', 'S-band')

# f) liquid water path
ax = axes[5]
ax.plot(lwp1_lat, lwp1_val, color=INK, lw=2.0)
ax.plot(lwp20_lat, lwp20_val, color=RED, lw=3.4, ls=DASH20)
ax.set_ylim(-0.25, 2.9)
ax.set_yticks([0, 1, 2])
ylab(ax, 'kg m$^{-2}$')
panel_label(ax, 'f) liquid water path', '(AATSR adjusted)', y1=0.87, y2=0.67)
ax.legend([Line2D([], [], color=INK, lw=1.8), Line2D([], [], color=RED, lw=3.6, ls=DASH20)],
          ['1 km res.', '20 km res.'], loc='upper right', bbox_to_anchor=(1.005, 0.94),
          frameon=False, prop={'family': SERIF, 'size': 30}, handlelength=1.35,
          handletextpad=0.45, labelspacing=0.15, borderaxespad=0, borderpad=0)

# g) cloud top height
ax = axes[6]
ax.plot(cth_lat, cth_val, color=INK, lw=2.0)
ax.set_ylim(0, 14)
ax.set_yticks([0, 4, 8, 12])
ylab(ax, 'km')
panel_label(ax, 'g) Cloud top height')

# h) optical depth
ax = axes[7]
ax.plot(tau_lat, tau_val, color=INK, lw=2.0)
ax.set_yscale('log')
ax.set_ylim(0.54, 440)
ax.set_yticks([1, 3, 10, 30, 100, 300])
ax.set_yticklabels(['1', '3', '10', '30', '100', ''])
ax.minorticks_off()
panel_label(ax, 'h) Optical depth')

# i) particle size
ax = axes[8]
ax.plot(re_lat, re_val, color=INK, lw=2.0)
ax.set_ylim(0, 34)
ax.set_yticks([0, 10, 20, 30])
ylab(ax, 'μm')
panel_label(ax, 'i) Particle size')
ax.tick_params(axis='x', labelbottom=True)

fig.text(0.565, 0.004, 'Latitude (˚N)', fontsize=40, ha='center', va='baseline')

# annotations above the top panel
fig.text(1077 / W, 1 - 92 / Hpx, 'Nearest', family='Lato', weight='bold', fontsize=48,
         color='#b87bb8', ha='center', va='baseline')
fig.text(1076 / W, 1 - 167 / Hpx, 'point to eye', family='Lato', weight='bold', fontsize=48,
         color='#b87bb8', ha='center', va='baseline')
fig.text(813 / W, 1 - 164 / Hpx, 'Land', family='Lato', weight='bold', fontsize=48,
         color='#6cbd45', ha='center', va='baseline')

fig.savefig('out.png', dpi=100)
